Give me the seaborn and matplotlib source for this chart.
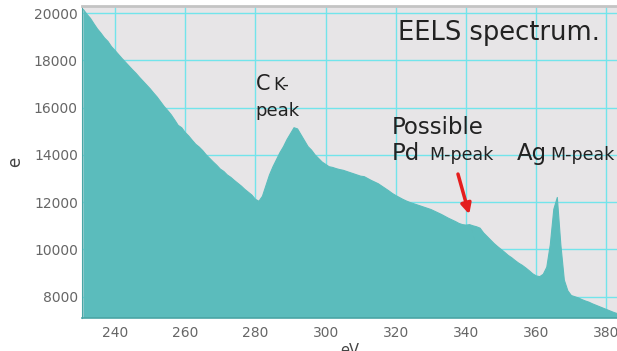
import matplotlib
matplotlib.use("Agg")
import matplotlib.pyplot as plt
import seaborn as sns
import pandas as pd

# Energy-loss axis (eV), one channel per eV
energy_ev = list(range(231, 384))

# Measured counts per channel
counts = [
    20150, 19950, 19780, 19550, 19330, 19150, 18950, 18800, 18580, 18420,  # 231-240
    18250, 18080, 17920, 17760, 17600, 17450, 17280, 17120, 16960, 16800,  # 241-250
    16620, 16450, 16250, 16050, 15880, 15700, 15480, 15250, 15150, 14950,  # 251-260
    14800, 14620, 14450, 14330, 14180, 14000, 13850, 13700, 13560, 13400,  # 261-270
    13300, 13150, 13050, 12920, 12800, 12680, 12540, 12420, 12300, 12120,  # 271-280
    12040, 12250, 12700, 13150, 13500, 13800, 14100, 14350, 14650, 14900,  # 281-290
    15150, 15100, 14850, 14600, 14350, 14200, 14000, 13850, 13700, 13600,  # 291-300
    13500, 13470, 13420, 13380, 13350, 13300, 13250, 13200, 13150, 13100,  # 301-310
    13080, 13000, 12920, 12850, 12780, 12680, 12580, 12480, 12370, 12280,  # 311-320
    12200, 12120, 12050, 11990, 11940, 11890, 11840, 11790, 11740, 11690,  # 321-330
    11620, 11550, 11480, 11400, 11320, 11250, 11180, 11100, 11050, 11030,  # 331-340
    11050, 11000, 10960, 10900, 10700, 10550, 10400, 10250, 10120, 10000,  # 341-350
    9880, 9750, 9650, 9530, 9420, 9330, 9220, 9100, 8970, 8880,            # 351-360
    8850, 8950, 9250, 10200, 11700, 12200, 10200, 8700, 8250, 8050,        # 361-370
    8000, 7950, 7880, 7820, 7770, 7700, 7640, 7580, 7520, 7460,            # 371-380
    7400, 7340, 7290,                                                      # 381-383
]

x_ticks = [240, 260, 280, 300, 320, 340, 360, 380]
y_ticks = [8000, 10000, 12000, 14000, 16000, 18000, 20000]

df = pd.DataFrame({"eV": energy_ev, "counts": counts})

sns.set_style("white")
plt.rcParams["font.family"] = ["DejaVu Sans"]

fill_color = "#5bbcbc"
grid_color = "#72e4eb"
tick_color = "#666666"

fig = plt.figure(figsize=(6.17, 3.51), dpi=100)
ax = fig.add_axes([82 / 617, 1 - 318 / 351, 1 - 82 / 617, (318 - 6) / 351])
ax.set_facecolor("#e7e5e7")

ax.fill_between(df["eV"], df["counts"], 0, color=fill_color, linewidth=0, zorder=2)
sns.lineplot(data=df, x="eV", y="counts", ax=ax, color=fill_color, linewidth=0.8, zorder=3)

ax.set_xlim(230.6, 383)
ax.set_ylim(7100, 20300)
ax.set_xticks(x_ticks)
ax.set_yticks(y_ticks)
ax.grid(True, color=grid_color, linewidth=1.0, zorder=1)
ax.set_axisbelow(True)

ax.spines["right"].set_visible(False)
ax.spines["top"].set_color("#c4c4c4")
ax.spines["top"].set_linewidth(2)
ax.spines["left"].set_color("#4aa5a5")
ax.spines["bottom"].set_color("#4aa5a5")
ax.spines["bottom"].set_linewidth(1.2)

ax.tick_params(axis="both", direction="out", length=3, width=1, color=tick_color,
               labelcolor=tick_color, labelsize=10)
ax.tick_params(axis="y", pad=0)
ax.tick_params(axis="x", pad=3)

ax.set_xlabel("eV", fontsize=10.5, color="#444444", labelpad=2)
ax.set_ylabel("e", fontsize=12, color="#444444", labelpad=7)

txt = dict(color="#222222", va="baseline", zorder=5)
ax.text(320.6, 18850, "EELS spectrum.", fontsize=18.5, **txt)
ax.text(280.0, 16766, "C", fontsize=15, **txt)
ax.text(285.0, 16766, "K-", fontsize=12.5, **txt)
ax.text(280.0, 15660, "peak", fontsize=13, **txt)
ax.text(318.9, 14894, "Possible", fontsize=16.5, **txt)
ax.text(318.9, 13787, "Pd", fontsize=16.5, **txt)
ax.text(329.5, 13787, "M-peak", fontsize=12.5, **txt)
ax.text(354.6, 13787, "Ag", fontsize=16.5, **txt)
ax.text(364.0, 13787, "M-peak", fontsize=12.5, **txt)

ax.annotate("", xy=(340.9, 11490), xytext=(337.7, 13190),
            arrowprops=dict(arrowstyle="-|>", color="#e41e1e", lw=2.5,
                            mutation_scale=15, shrinkA=0, shrinkB=0),
            zorder=6)

fig.savefig("out.png", dpi=100)
